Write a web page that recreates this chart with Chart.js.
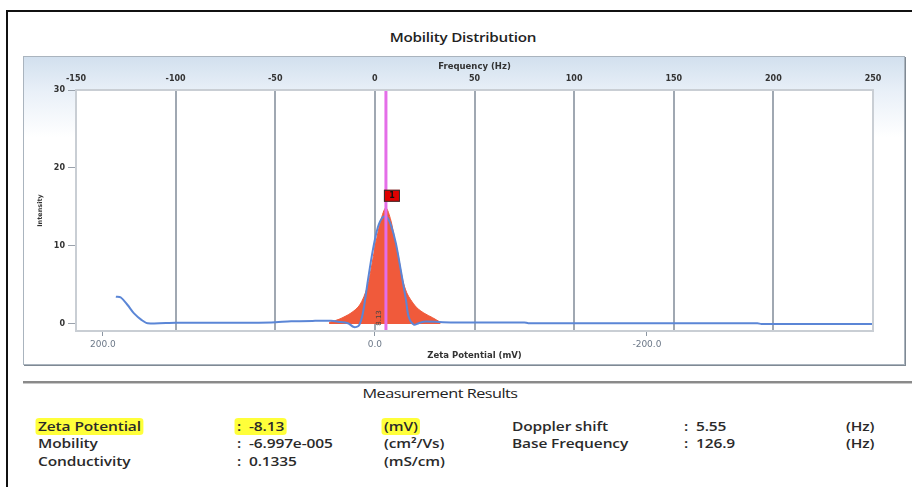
<!DOCTYPE html>
<html>
<head>
<meta charset="utf-8">
<script src="https://cdn.jsdelivr.net/npm/chart.js@4.4.1/dist/chart.umd.min.js"></script>
<style>
body { margin: 0; width: 912px; height: 487px; overflow: hidden; background: #fff; font-family: "Open Sans", sans-serif; position: relative; }
.frame { position: absolute; left: 6px; top: 10px; width: 920px; height: 490px; border-left: 2px solid #111; border-top: 2px solid #111; }
.title { position: absolute; left: 0; width: 926px; top: 28px; text-align: center; font-size: 13px; font-weight: 600; color: #222; letter-spacing: -0.2px; transform: scaleX(1.17); }
.panel { position: absolute; left: 23px; top: 56px; width: 880px; height: 307px; border: 1px solid #aab4be; box-shadow: 1px 1px 0 #7f8993;
  background: linear-gradient(#d2e0ee 0px, #e9f0f8 35px, #fff 80px); }
#chartBox { position: absolute; left: 25px; top: 57px; width: 880px; height: 308px; }
.sep { position: absolute; left: 23px; top: 381px; width: 900px; height: 2px; background: #8a8a8a; border-bottom: 1px solid #c8c8c8; }
.res { position: absolute; font-size: 12.5px; font-weight: 600; color: #2a2a2a; line-height: 16px; white-space: pre; letter-spacing: -0.1px; transform: scaleX(1.24); transform-origin: left center; }
.hl { background: #ffff3a; border-radius: 3px; padding: 0 2px; margin-left: -2px; }
.head { position: absolute; left: 0; width: 880px; top: 385px; text-align: center; font-size: 12.5px; color: #222; letter-spacing: -0.4px; transform: scaleX(1.3); }
</style>
</head>
<body>
<div class="frame"></div>
<div class="title">Mobility Distribution</div>
<div class="panel"></div>
<div id="chartBox"><canvas id="mobChart"></canvas></div>
<div class="sep"></div>
<div class="head">Measurement Results</div>

<div class="res" style="left:38px;top:419px"><span class="hl">Zeta Potential</span></div>
<div class="res" style="left:38px;top:436px">Mobility</div>
<div class="res" style="left:38px;top:454px">Conductivity</div>
<div class="res" style="left:237px;top:419px"><span class="hl">:  -8.13</span></div>
<div class="res" style="left:237px;top:436px">:  -6.997e-005</div>
<div class="res" style="left:237px;top:454px">:  0.1335</div>
<div class="res" style="left:384px;top:419px"><span class="hl">(mV)</span></div>
<div class="res" style="left:384px;top:436px">(cm²/Vs)</div>
<div class="res" style="left:384px;top:454px">(mS/cm)</div>
<div class="res" style="left:512px;top:419px">Doppler shift</div>
<div class="res" style="left:512px;top:436px">Base Frequency</div>
<div class="res" style="left:684px;top:419px">:  5.55</div>
<div class="res" style="left:684px;top:436px">:  126.9</div>
<div class="res" style="left:846px;top:419px">(Hz)</div>
<div class="res" style="left:846px;top:436px">(Hz)</div>

<script>
// measured values
const zetaPotential = -8.13;
const dopplerShift = 5.55;

// axis ranges / ticks
const freqMin = -150, freqMax = 250;
const intensityMin = -0.9, intensityMax = 30;
const freqTicks = [-150, -100, -50, 0, 50, 100, 150, 200, 250];
const zetaTicks = [200, 0, -200];
const intensityTicks = [0, 10, 20, 30];

// blue measured curve (frequency Hz, intensity)
const lineFreq = [-130, -127.5, -124, -121, -117, -114, -100, -80, -52, -42, -30, -22, -18.6, -13.5, -10.5, -8, -6, -3.5, -1, 1.5, 4, 6, 8, 10.5, 13, 15.6, 17, 19.6, 22, 24.6, 38, 75, 77, 192, 194, 250];
const lineIntensity = [3.5, 3.4, 2.4, 1.4, 0.5, 0.1, 0.15, 0.15, 0.2, 0.35, 0.4, 0.4, 0.3, 0.1, -0.4, -0.2, 1.4, 5.6, 9.5, 12.4, 13.7, 13.7, 12.7, 10.4, 6.9, 3.1, 0.9, -0.1, 0.1, 0.3, 0.2, 0.2, 0.1, 0.1, 0.0, 0.0];

// red filled fit peak
const fillFreq = [-23, -18, -12, -8, -5.5, -3.5, -2, 0.5, 3, 5.5, 8, 10, 11.5, 14, 16, 18, 21, 24.6, 29, 33];
const fillIntensity = [0.2, 0.6, 1.4, 2.3, 3.5, 5.0, 6.9, 10.4, 13.3, 14.9, 13.3, 10.8, 9.1, 5.6, 4.0, 3.1, 2.1, 1.4, 0.8, 0.2];

const zetaPerHz = zetaPotential / dopplerShift;

const toPoints = (xs, ys) => xs.map((x, i) => ({ x: x, y: ys[i] }));

const plotFrame = {
  id: 'plotFrame',
  beforeDraw: (chart) => {
    const a = chart.chartArea, ctx = chart.ctx;
    ctx.save();
    ctx.fillStyle = '#fff';
    ctx.fillRect(a.left, a.top, a.right - a.left, a.bottom - a.top);
    ctx.restore();
  },
  afterDraw: (chart) => {
    const a = chart.chartArea, ctx = chart.ctx;
    ctx.save();
    ctx.strokeStyle = '#c9ced4';
    ctx.lineWidth = 2;
    ctx.strokeRect(a.left, a.top, a.right - a.left, a.bottom - a.top);
    ctx.restore();
  },
  afterDatasetsDraw: (chart) => {
    const ctx = chart.ctx;
    const xs = chart.scales.x, ys = chart.scales.y;
    const px = xs.getPixelForValue(dopplerShift);
    const peak = Math.max(...fillIntensity);
    const py = ys.getPixelForValue(peak);
    // peak marker
    ctx.save();
    ctx.fillStyle = '#e00000';
    ctx.strokeStyle = '#333';
    ctx.lineWidth = 1;
    ctx.fillRect(px - 2, py - 18, 16, 12);
    ctx.strokeRect(px - 2 + 0.5, py - 18 + 0.5, 15, 11);
    ctx.fillStyle = '#111';
    ctx.font = 'bold 8px "DejaVu Sans"';
    ctx.textAlign = 'center';
    ctx.textBaseline = 'middle';
    ctx.fillText('1', px + 6, py - 12);
    // small rotated zeta label
    ctx.translate(px - 7, ys.getPixelForValue(0) - 6);
    ctx.rotate(-Math.PI / 2);
    ctx.font = '7px "DejaVu Sans"';
    ctx.fillStyle = '#444';
    ctx.fillText(zetaPotential.toFixed(2).replace('-', ''), 0, 0);
    ctx.restore();
  }
};

const ctx = document.getElementById('mobChart').getContext('2d');

new Chart(ctx, {
  type: 'line',
  data: {
    datasets: [{
      label: 'Doppler',
      data: [{ x: dopplerShift, y: intensityMin }, { x: dopplerShift, y: intensityMax }],
      borderColor: '#e46ee8',
      borderWidth: 3,
      pointRadius: 0,
      fill: false
    }, {
      label: 'Intensity',
      data: toPoints(lineFreq, lineIntensity),
      borderColor: '#5b86d6',
      borderWidth: 2,
      pointRadius: 0,
      tension: 0.3,
      fill: false
    }, {
      label: 'Fit',
      data: toPoints(fillFreq, fillIntensity),
      borderColor: '#f05a3b',
      backgroundColor: '#f05a3b',
      borderWidth: 1,
      pointRadius: 0,
      tension: 0.3,
      fill: 'origin'
    }]
  },
  options: {
    responsive: true,
    maintainAspectRatio: false,
    animation: false,
    layout: { padding: { left: 0, right: 32, top: 0, bottom: 0 } },
    plugins: { legend: { display: false }, tooltip: { enabled: false } },
    scales: {
      x: {
        type: 'linear',
        position: 'top',
        min: freqMin,
        max: freqMax,
        afterBuildTicks: (axis) => { axis.ticks = freqTicks.map(v => ({ value: v })); },
        afterFit: (axis) => { axis.height = 33; },
        border: { display: false },
        grid: {
          drawTicks: false,
          lineWidth: 2,
          color: (c) => (c.tick && (c.tick.value === freqMin || c.tick.value === freqMax)) ? 'rgba(0,0,0,0)' : '#a0a8b2'
        },
        ticks: { padding: 6, maxRotation: 0, color: '#333', font: { family: 'DejaVu Sans', size: 8, weight: 'bold' } },
        title: { display: true, text: 'Frequency (Hz)', color: '#333', padding: { top: 5, bottom: 0 }, font: { family: 'DejaVu Sans', size: 8.5, weight: 'bold' } }
      },
      x2: {
        type: 'linear',
        position: 'bottom',
        reverse: true,
        min: freqMax * zetaPerHz,
        max: freqMin * zetaPerHz,
        afterBuildTicks: (axis) => { axis.ticks = zetaTicks.map(v => ({ value: v })); },
        afterFit: (axis) => { axis.height = 34; },
        border: { display: false },
        grid: { drawOnChartArea: false, tickLength: 5, tickColor: '#8c96a2', lineWidth: 1 },
        ticks: { padding: 3, maxRotation: 0, color: '#6c7888', font: { family: 'DejaVu Sans', size: 9 }, callback: (v) => v.toFixed(1) },
        title: { display: true, text: 'Zeta Potential (mV)', color: '#333', padding: { top: 0, bottom: 4 }, font: { family: 'DejaVu Sans', size: 8.5, weight: 'bold' } }
      },
      y: {
        min: intensityMin,
        max: intensityMax,
        afterBuildTicks: (axis) => { axis.ticks = intensityTicks.map(v => ({ value: v })); },
        afterFit: (axis) => { axis.width = 51; },
        border: { display: false },
        grid: { drawOnChartArea: false, tickLength: 8, tickColor: '#9aa2ac', lineWidth: 1 },
        ticks: { padding: 3, color: '#333', font: { family: 'DejaVu Sans', size: 8, weight: 'bold' } },
        title: { display: true, text: 'Intensity', color: '#333', padding: { top: 11, bottom: 0 }, font: { family: 'DejaVu Sans', size: 6.5, weight: 'bold' } }
      }
    }
  },
  plugins: [plotFrame]
});
</script>
</body>
</html>
